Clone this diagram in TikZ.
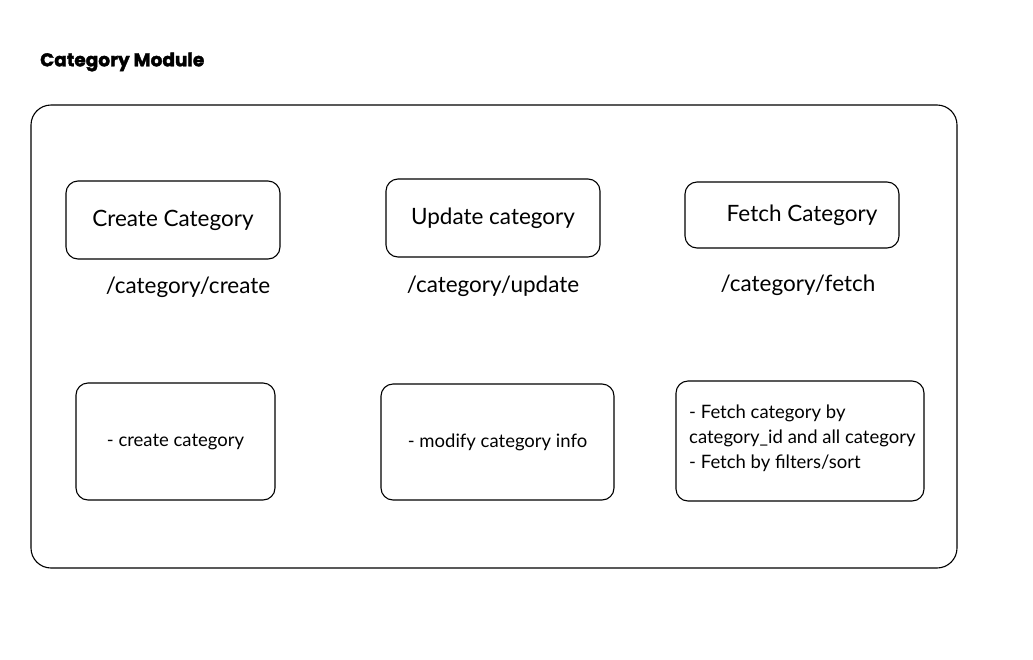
\documentclass[tikz,border=0pt]{standalone}
\usepackage{fontspec}
\setmainfont{Lato}
\newfontfamily\titulo[FakeBold=2]{Poppins}
\usetikzlibrary{positioning}
\begin{document}
\begin{tikzpicture}[x=1pt, y=-1pt,
  modulo/.style={draw, line width=1.1pt, rounded corners=20pt},
  caja/.style={draw, line width=1.1pt, rounded corners=12pt, align=center, inner sep=0pt},
  ruta/.style={font=\fontsize{22.5}{27}\selectfont},
  nota/.style={font=\fontsize{18.5}{25}\selectfont}]
\useasboundingbox (0,0) rectangle (1033,659);
\node[anchor=west, inner sep=0pt, font=\titulo\bfseries\fontsize{18.5}{22}\selectfont] (titulo) at (40,62) {Category Module};
\draw[modulo] (31,105) rectangle (957,568);
% fila de arriba
\node[caja, ruta, minimum width=214pt, minimum height=78pt] (crear) at (173,220) {Create Category};
\node[caja, ruta, minimum width=214pt, minimum height=78pt] (editar) at (493,218) {Update category};
\node[caja, ruta, minimum width=214pt, minimum height=66pt] (buscar) at (792,215) {\hspace*{20pt}Fetch Category};
\node[ruta] (rcrear) at (188,287) {/category/create};
\node[ruta] (reditar) at (493,286) {/category/update};
\node[ruta] (rbuscar) at (798,285) {/category/fetch};
% fila de abajo
\node[caja, nota, minimum width=199pt, minimum height=117pt] (dcrear) at (175.5,441.5) {- create category};
\node[caja, nota, minimum width=233pt, minimum height=116pt] (deditar) at (497.5,442) {- modify category info};
\draw[caja] (676,381) rectangle (924,501);
\node[nota, anchor=west, align=left, inner sep=0pt] (dbuscar) at (689,438) {- Fetch category by\\category\_id and all category\\- Fetch by filters/sort};
\end{tikzpicture}
\end{document}
